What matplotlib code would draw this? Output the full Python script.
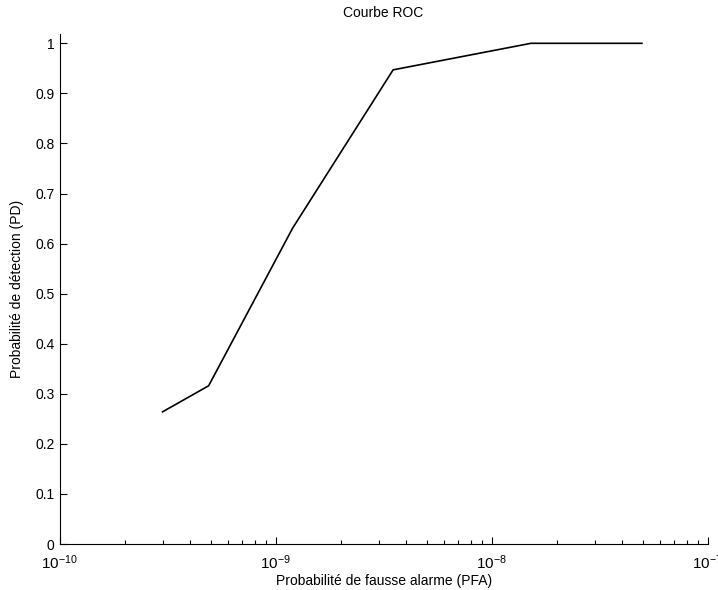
import matplotlib
matplotlib.use("Agg")
import matplotlib.pyplot as plt
from matplotlib.ticker import LogLocator, NullFormatter

plt.rcParams['font.family'] = ['Liberation Sans', 'DejaVu Sans']
plt.rcParams['mathtext.fontset'] = 'custom'
plt.rcParams['mathtext.rm'] = 'Liberation Sans'
plt.rcParams['mathtext.it'] = 'Liberation Sans:italic'
plt.rcParams['mathtext.bf'] = 'Liberation Sans:bold'

pfa = [3.0e-10, 4.9e-10, 1.2e-9, 3.5e-9, 1.52e-8, 4.96e-8]
pd_vals = [0.264, 0.316, 0.631, 0.947, 1.0, 1.0]
yticks = [0, 0.1, 0.2, 0.3, 0.4, 0.5, 0.6, 0.7, 0.8, 0.9, 1]
ytick_labels = ["0", "0.1", "0.2", "0.3", "0.4", "0.5", "0.6", "0.7", "0.8", "0.9", "1"]

fig = plt.figure(figsize=(7.18, 5.9), dpi=100)
ax = fig.add_axes([59.5/718, 46/590, (707.7-59.5)/718, (544-34)/590])
ax.plot(pfa, pd_vals, color='black', lw=1.2)
ax.set_xscale('log')
ax.set_xlim(1e-10, 1e-7)
ax.set_ylim(0, 1.0186)
ax.set_yticks(yticks)
ax.set_yticklabels(ytick_labels)
ax.xaxis.set_major_locator(LogLocator(base=10, numticks=10))
ax.xaxis.set_minor_locator(LogLocator(base=10, subs=range(2, 10), numticks=100))
ax.xaxis.set_minor_formatter(NullFormatter())
for s in ['top', 'right']:
    ax.spines[s].set_visible(False)
ax.tick_params(axis='both', which='major', direction='in', length=5, width=0.8, labelsize=10, colors='black')
ax.tick_params(axis='x', which='major', labelsize=11, pad=7)
ax.tick_params(axis='both', which='minor', direction='in', length=3, width=0.8)
ax.set_title('Courbe ROC', fontsize=10, pad=12)
ax.set_xlabel('Probabilité de fausse alarme (PFA)', fontsize=10, labelpad=1)
ax.set_ylabel('Probabilité de détection (PD)', fontsize=10, labelpad=8)
fig.savefig('out.png', dpi=100)
